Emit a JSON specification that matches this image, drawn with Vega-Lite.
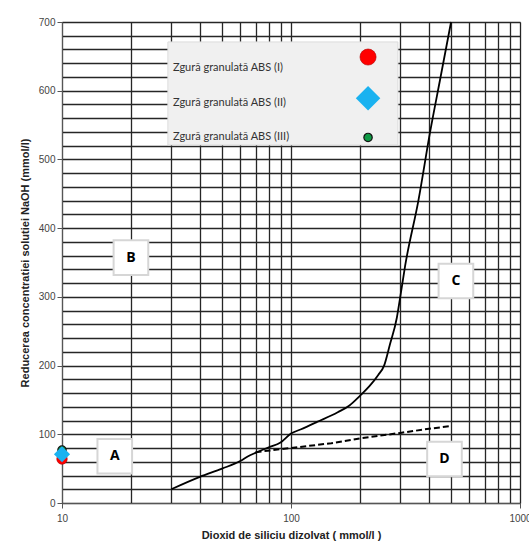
{
  "$schema": "https://vega.github.io/schema/vega-lite/v6.json",
  "width": 458,
  "height": 481,
  "autosize": {"type": "none"},
  "padding": {"left": 62, "top": 22, "right": 9, "bottom": 53},
  "background": "white",
  "config": {
    "view": {"stroke": "#9a9a9a", "strokeWidth": 1},
    "axis": {
      "labelFont": "Liberation Sans",
      "labelFontSize": 10,
      "labelColor": "#444",
      "titleFont": "Liberation Sans",
      "titleFontSize": 11,
      "titleFontWeight": "bold",
      "titleColor": "#222",
      "gridColor": "#262626",
      "gridWidth": 1.3,
      "gridOpacity": 1,
      "domainColor": "#555",
      "tickColor": "#555"
    }
  },
  "encoding": {
    "x": {
      "field": "x", "type": "quantitative",
      "scale": {"type": "log", "domain": [10, 1000]},
      "axis": {
        "title": "Dioxid de siliciu dizolvat ( mmol/l )",
        "values": [10, 20, 30, 40, 50, 60, 70, 80, 90, 100, 200, 300, 400, 500, 600, 700, 800, 900, 1000],
        "labelExpr": "datum.value == 10 || datum.value == 100 || datum.value == 1000 ? datum.value : ''",
        "tickOpacity": {"condition": {"test": "datum.value == 10 || datum.value == 100 || datum.value == 1000", "value": 1}, "value": 0},
        "labelPadding": 5,
        "titlePadding": 6,
        "labelFlush": false,
        "labelOverlap": false
      }
    },
    "y": {
      "field": "y", "type": "quantitative",
      "scale": {"domain": [0, 700], "nice": false},
      "axis": {
        "title": "Reducerea concentratiei solutiei NaOH (mmol/l)",
        "values": [0, 20, 40, 60, 80, 100, 120, 140, 160, 180, 200, 220, 240, 260, 280, 300, 320, 340, 360, 380, 400, 420, 440, 460, 480, 500, 520, 540, 560, 580, 600, 620, 640, 660, 680, 700],
        "labelExpr": "datum.value % 100 == 0 ? datum.value : ''",
        "tickOpacity": {"condition": {"test": "datum.value % 100 == 0", "value": 1}, "value": 0},
        "titlePadding": 8,
        "labelOverlap": false
      }
    }
  },
  "layer": [
    {
      "data": {"values": [
        {"x": 30, "y": 20}, {"x": 40, "y": 38}, {"x": 50, "y": 50}, {"x": 60, "y": 61},
        {"x": 65, "y": 68}, {"x": 70, "y": 73}, {"x": 80, "y": 81}, {"x": 90, "y": 88},
        {"x": 100, "y": 101}, {"x": 110, "y": 107}, {"x": 130, "y": 118}, {"x": 160, "y": 132},
        {"x": 180, "y": 142}, {"x": 200, "y": 156}, {"x": 220, "y": 170}, {"x": 240, "y": 186},
        {"x": 255, "y": 200}, {"x": 270, "y": 230}, {"x": 290, "y": 270}, {"x": 300, "y": 300},
        {"x": 315, "y": 345}, {"x": 360, "y": 440}, {"x": 405, "y": 540}, {"x": 450, "y": 620},
        {"x": 500, "y": 700}
      ]},
      "mark": {"type": "line", "color": "black", "strokeWidth": 1.8, "interpolate": "monotone"}
    },
    {
      "data": {"values": [
        {"x": 70, "y": 74}, {"x": 100, "y": 80}, {"x": 150, "y": 87}, {"x": 200, "y": 94},
        {"x": 300, "y": 102}, {"x": 400, "y": 108}, {"x": 500, "y": 112}
      ]},
      "mark": {"type": "line", "color": "black", "strokeWidth": 2, "strokeDash": [6, 3]}
    },
    {
      "data": {"values": [
        {"x": 29, "x2": 293, "y": 521, "y2": 671}
      ]},
      "mark": {"type": "rect", "fill": "#f0f0f0", "stroke": "#dcdcdc", "strokeWidth": 1},
      "encoding": {
        "x2": {"field": "x2"},
        "y2": {"field": "y2"}
      }
    },
    {
      "data": {"values": [
        {"x": 30.5, "y": 633, "t": "Zgură granulată ABS (I)"},
        {"x": 30.5, "y": 582, "t": "Zgură granulată ABS (II)"},
        {"x": 30.5, "y": 532, "t": "Zgură granulată ABS (III)"}
      ]},
      "mark": {"type": "text", "font": "Lato", "fontSize": 11, "color": "#333", "align": "left", "baseline": "middle"},
      "encoding": {"text": {"field": "t"}}
    },
    {
      "data": {"values": [
        {"x": 17, "y": 68, "t": "A"}, {"x": 20, "y": 357, "t": "B"},
        {"x": 525, "y": 323, "t": "C"}, {"x": 468, "y": 64, "t": "D"}
      ]},
      "mark": {"type": "point", "shape": "square", "size": 1200, "filled": true, "fill": "white", "stroke": "#d6d6d6", "strokeWidth": 2, "opacity": 1}
    },
    {
      "data": {"values": [
        {"x": 17, "y": 68, "t": "A"}, {"x": 20, "y": 357, "t": "B"},
        {"x": 525, "y": 323, "t": "C"}, {"x": 468, "y": 64, "t": "D"}
      ]},
      "mark": {"type": "text", "font": "Open Sans", "fontSize": 14, "fontWeight": "bold", "color": "black"},
      "encoding": {"text": {"field": "t"}}
    },
    {
      "data": {"values": [{"x": 217, "y": 649}]},
      "mark": {"type": "point", "shape": "circle", "filled": true, "fill": "#ff0000", "stroke": "#b00000", "strokeWidth": 0.6, "opacity": 1, "size": 260}
    },
    {
      "data": {"values": [{"x": 217, "y": 589}]},
      "mark": {"type": "point", "shape": "square", "angle": 45, "filled": true, "fill": "#1ab2f0", "opacity": 1, "size": 300}
    },
    {
      "data": {"values": [{"x": 217, "y": 532}]},
      "mark": {"type": "point", "shape": "circle", "filled": true, "fill": "#0f9a45", "stroke": "#111", "strokeWidth": 1.2, "opacity": 1, "size": 70}
    },
    {
      "data": {"values": [{"x": 10, "y": 64, "serie": "Zgură granulată ABS (I)"}]},
      "mark": {"type": "point", "shape": "circle", "filled": true, "fill": "#ff0000", "stroke": "#b00000", "strokeWidth": 0.6, "opacity": 1, "size": 110}
    },
    {
      "data": {"values": [{"x": 10, "y": 77, "serie": "Zgură granulată ABS (III)"}]},
      "mark": {"type": "point", "shape": "circle", "filled": true, "fill": "#0f9a45", "stroke": "#111", "strokeWidth": 1.2, "opacity": 1, "size": 70}
    },
    {
      "data": {"values": [{"x": 10, "y": 71, "serie": "Zgură granulată ABS (II)"}]},
      "mark": {"type": "point", "shape": "square", "angle": 45, "filled": true, "fill": "#1ab2f0", "opacity": 1, "size": 130}
    }
  ]
}
